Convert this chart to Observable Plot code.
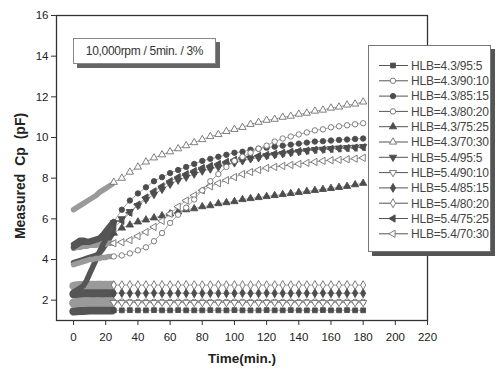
<!DOCTYPE html>
<html><head><meta charset="utf-8">
<script src="https://cdn.jsdelivr.net/npm/d3@7"></script>
<script src="https://cdn.jsdelivr.net/npm/@observablehq/plot@0.6"></script>
<style>
body{margin:0;background:#fff;}
#wrap{position:relative;width:503px;height:369px;overflow:hidden;font-family:"Liberation Sans",Arial,sans-serif;}
#wrap > svg{position:absolute;left:0;top:0;}
.ann{position:absolute;left:73px;top:38px;width:141px;height:24px;border:1px solid #888;background:#fff;box-shadow:4px 4px 0 #666;font-size:12px;line-height:24px;text-align:center;color:#333;letter-spacing:-0.3px;white-space:nowrap}
.ytitle{position:absolute;left:20px;top:176px;transform:translate(-50%,-50%) rotate(-90deg);font-weight:bold;font-size:14px;word-spacing:4px;white-space:nowrap;color:#222}
.xtitle{position:absolute;left:242px;top:358px;transform:translate(-50%,-50%);font-weight:bold;font-size:13.5px;white-space:nowrap;color:#222}
.legend{position:absolute;left:368px;top:45px;width:121px;height:205px;border:1px solid #777;background:#fff;box-shadow:4px 4px 0 #555;}
.legend svg{position:absolute;left:0;top:0;}
</style></head>
<body>
<div id="wrap"></div>
<script>
// ---- data ----
const names = ["HLB=4.3/95:5","HLB=4.3/90:10","HLB=4.3/85:15","HLB=4.3/80:20","HLB=4.3/75:25","HLB=4.3/70:30","HLB=5.4/95:5","HLB=5.4/90:10","HLB=5.4/85:15","HLB=5.4/80:20","HLB=5.4/75:25","HLB=5.4/70:30"];
const xTicks = [0,20,40,60,80,100,120,140,160,180,200,220];
const yTicks = [2,4,6,8,10,12,14,16];
const earlyT = [0,2,4,6,8,10,12,14,16,18,20,22,24];
const lateT = [25,30,35,40,45,50,55,60,65,70,75,80,85,90,95,100,105,110,115,120,125,130,135,140,145,150,155,160,165,170,175,180];

const early_43_95 = [1.45,1.47,1.48,1.48,1.49,1.5,1.5,1.5,1.5,1.5,1.5,1.5,1.5];
const late_43_95 = [1.5,1.5,1.51,1.5,1.5,1.51,1.5,1.5, 1.51,1.5,1.5,1.5,1.51,1.5,1.5,1.51, 1.5,1.5,1.5,1.51,1.5,1.5,1.51,1.5, 1.5,1.5,1.51,1.5,1.5,1.51,1.5,1.5];
const early_43_90 = [1.88,1.9,1.91,1.92,1.92,1.92,1.93,1.92,1.92,1.93,1.92,1.92,1.92];
const late_43_90 = [1.92,1.93,1.92,1.92,1.93,1.92,1.92,1.92, 1.93,1.92,1.92,1.93,1.92,1.92,1.92,1.93, 1.92,1.92,1.93,1.92,1.92,1.92,1.93,1.92, 1.92,1.93,1.92,1.92,1.92,1.93,1.92,1.92];
const early_43_85 = [2.4,2.5,2.6,2.7,2.95,3.3,3.65,4.0,4.35,4.7,5.0,5.35,5.7];
const late_43_85 = [5.85,6.45,6.9,7.25,7.55,7.85,8.05,8.25,8.4,8.55,8.7,8.85,8.95,9.05,9.15,9.25,9.3,9.4,9.45,9.5,9.55,9.6,9.65,9.7,9.75,9.8,9.82,9.85,9.88,9.9,9.93,9.95];
const early_43_80 = [3.75,3.8,3.85,3.9,3.95,4.0,4.0,4.05,4.05,4.1,4.1,4.15,4.15];
const late_43_80 = [4.15,4.2,4.3,4.45,4.6,4.9,5.3,5.8,6.2,6.55,6.95,7.4,7.85,8.2,8.55,8.85,9.05,9.25,9.45,9.6,9.8,9.95,10.05,10.15,10.25,10.35,10.4,10.5,10.55,10.6,10.65,10.7];
const early_43_75 = [3.85,3.9,3.95,4.0,4.05,4.1,4.15,4.2,4.3,4.5,4.75,5.0,5.25];
const late_43_75 = [5.3,5.55,5.7,5.85,5.95,6.05,6.15,6.25,6.35,6.45,6.5,6.6,6.65,6.75,6.8,6.85,6.95,7.0,7.05,7.1,7.15,7.2,7.25,7.3,7.35,7.4,7.45,7.5,7.55,7.6,7.68,7.75];
const early_43_70 = [6.45,6.55,6.65,6.75,6.85,6.95,7.05,7.15,7.3,7.4,7.5,7.6,7.7];
const late_43_70 = [7.8,8.0,8.3,8.55,8.8,9.0,9.15,9.3,9.45,9.6,9.75,9.9,10.05,10.15,10.3,10.4,10.5,10.65,10.75,10.85,10.9,11.0,11.05,11.15,11.2,11.3,11.35,11.45,11.5,11.6,11.65,11.75];
const early_54_95 = [4.75,4.85,4.95,4.95,4.9,4.9,4.95,5.0,5.05,5.2,5.4,5.6,5.8];
const late_54_95 = [5.8,6.0,6.35,6.65,6.95,7.2,7.45,7.7,7.9,8.05,8.2,8.35,8.45,8.55,8.65,8.75,8.85,8.95,9.0,9.1,9.15,9.2,9.25,9.3,9.35,9.4,9.42,9.45,9.48,9.5,9.52,9.55];
const early_54_90 = [1.84,1.86,1.87,1.88,1.88,1.88,1.89,1.88,1.88,1.88,1.89,1.88,1.88];
const late_54_90 = [1.88,1.88,1.89,1.88,1.88,1.88,1.89,1.88, 1.88,1.89,1.88,1.88,1.88,1.89,1.88,1.88, 1.89,1.88,1.88,1.88,1.89,1.88,1.88,1.88, 1.89,1.88,1.88,1.88,1.89,1.88,1.88,1.88];
const early_54_85 = [2.3,2.32,2.33,2.34,2.34,2.34,2.35,2.34,2.34,2.34,2.35,2.34,2.34];
const late_54_85 = [2.34,2.35,2.34,2.34,2.34,2.35,2.34,2.34, 2.35,2.34,2.34,2.34,2.35,2.34,2.34,2.34, 2.35,2.34,2.34,2.35,2.34,2.34,2.34,2.35, 2.34,2.34,2.35,2.34,2.34,2.34,2.35,2.34];
const early_54_80 = [2.7,2.72,2.73,2.74,2.74,2.74,2.75,2.74,2.74,2.74,2.75,2.74,2.74];
const late_54_80 = [2.74,2.74,2.75,2.74,2.74,2.74,2.75,2.74, 2.74,2.75,2.74,2.74,2.74,2.75,2.74,2.74, 2.74,2.74,2.75,2.74,2.74,2.75,2.74,2.74, 2.74,2.75,2.74,2.74,2.74,2.75,2.74,2.74];
const early_54_75 = [4.6,4.7,4.8,4.85,4.85,4.85,4.9,4.95,5.0,5.1,5.25,5.4,5.55];
const late_54_75 = [5.6,5.9,6.3,6.7,7.05,7.35,7.6,7.85,8.05,8.2,8.35,8.5,8.6,8.7,8.8,8.9,9.0,9.05,9.1,9.15,9.2,9.25,9.3,9.33,9.36,9.4,9.42,9.44,9.46,9.48,9.5,9.52];
const early_54_70 = [4.55,4.6,4.6,4.65,4.65,4.7,4.7,4.7,4.75,4.75,4.75,4.8,4.8];
const late_54_70 = [4.8,4.85,4.95,5.15,5.35,5.6,5.9,6.25,6.6,6.9,7.15,7.4,7.6,7.75,7.9,8.05,8.2,8.3,8.4,8.5,8.55,8.6,8.65,8.7,8.75,8.8,8.85,8.88,8.9,8.93,8.96,9.0];

const earlyVals = [early_43_95,early_43_90,early_43_85,early_43_80,early_43_75,early_43_70,early_54_95,early_54_90,early_54_85,early_54_80,early_54_75,early_54_70];
const lateVals = [late_43_95,late_43_90,late_43_85,late_43_80,late_43_75,late_43_70,late_54_95,late_54_90,late_54_85,late_54_80,late_54_75,late_54_70];

// ---- styles (separate from data) ----
const styles = [
  {symbol:"square", rotate:0, filled:true, flat:true},
  {symbol:"circle", rotate:0, filled:false, flat:true},
  {symbol:"circle", rotate:0, filled:true},
  {symbol:"circle", rotate:0, filled:false},
  {symbol:"triangle", rotate:0, filled:true},
  {symbol:"triangle", rotate:0, filled:false},
  {symbol:"triangle", rotate:180, filled:true},
  {symbol:"triangle", rotate:180, filled:false, flat:true},
  {symbol:"diamond", rotate:0, filled:true, flat:true},
  {symbol:"diamond", rotate:0, filled:false, flat:true},
  {symbol:"triangle", rotate:-90, filled:true},
  {symbol:"triangle", rotate:-90, filled:false}
];
const drawOrder = [0,1,7,8,9,4,11,10,6,2,3,5];

const rows = names.flatMap((n,i)=>[
  ...earlyT.map((t,j)=>({i, t, v:earlyVals[i][j], ph:"early"})),
  ...lateT.map((t,j)=>({i, t, v:lateVals[i][j], ph:"late"}))
]);

const marks = [
  Plot.frame({stroke:"#333", strokeWidth:1.3}),
  Plot.axisX({ticks:xTicks, tickSize:5, tickPadding:7, label:null, stroke:"#333"}),
  Plot.axisY({ticks:yTicks, tickSize:5, tickPadding:3, label:null, stroke:"#333"})
];
for (const i of drawOrder) {
  const st = styles[i];
  const all = rows.filter(r=>r.i===i);
  const early = all.filter(r=>r.ph==="early");
  const late = all.filter(r=>r.ph==="late");
  marks.push(Plot.line(all,{x:"t",y:"v",stroke:"#8a8a8a",strokeWidth:0.8}));
  marks.push(Plot.line(early,{x:"t",y:"v",stroke: st.filled?"#555":"#9a9a9a",strokeWidth: st.flat?8.5:5.5,strokeLinecap:"round",strokeLinejoin:"round"}));
  marks.push(Plot.dot(late,{x:"t",y:"v",symbol:st.symbol,rotate:st.rotate,r:2.7,
    fill:st.filled?"#4d4d4d":"white",stroke:st.filled?"#4d4d4d":"#707070",strokeWidth:0.9}));
}

const chart = Plot.plot({
  width:503, height:369,
  marginLeft:56, marginRight:76, marginTop:15, marginBottom:49,
  x:{domain:[-10.6,220]},
  y:{domain:[1,16]},
  style:{fontFamily:"Liberation Sans, Arial, sans-serif", fontSize:"11.5px", color:"#222", background:"transparent"},
  marks
});
const wrap = document.getElementById("wrap");
wrap.appendChild(chart);

// annotation and titles
const ann = document.createElement("div"); ann.className="ann"; ann.textContent="10,000rpm / 5min. / 3%"; wrap.appendChild(ann);
const yt = document.createElement("div"); yt.className="ytitle"; yt.textContent="Measured Cp (pF)"; wrap.appendChild(yt);
const xt = document.createElement("div"); xt.className="xtitle"; xt.textContent="Time(min.)"; wrap.appendChild(xt);

// legend
const leg = document.createElement("div"); leg.className="legend"; wrap.appendChild(leg);
const lsvg = d3.select(leg).append("svg").attr("width",121).attr("height",205);
const symMap = {square:d3.symbolSquare, circle:d3.symbolCircle, triangle:d3.symbolTriangle, diamond:d3.symbolDiamond};
names.forEach((n,i)=>{
  const st = styles[i];
  const g = lsvg.append("g").attr("transform",`translate(0,${19.5+i*15.3})`);
  g.append("line").attr("x1",10).attr("x2",39).attr("y1",0).attr("y2",0).attr("stroke","#555").attr("stroke-width",1);
  g.append("path").attr("d",d3.symbol(symMap[st.symbol], Math.PI*2.7*2.7)())
    .attr("transform",`translate(24,0) rotate(${st.rotate})`)
    .attr("fill",st.filled?"#4d4d4d":"white").attr("stroke",st.filled?"#4d4d4d":"#707070").attr("stroke-width",0.9);
  g.append("text").attr("x",42).attr("y",0).attr("dy","0.36em").attr("font-size","12px").attr("letter-spacing","-0.2px")
    .attr("fill","#444").attr("font-family","Liberation Sans, Arial, sans-serif").text(n);
});
</script>
</body></html>
